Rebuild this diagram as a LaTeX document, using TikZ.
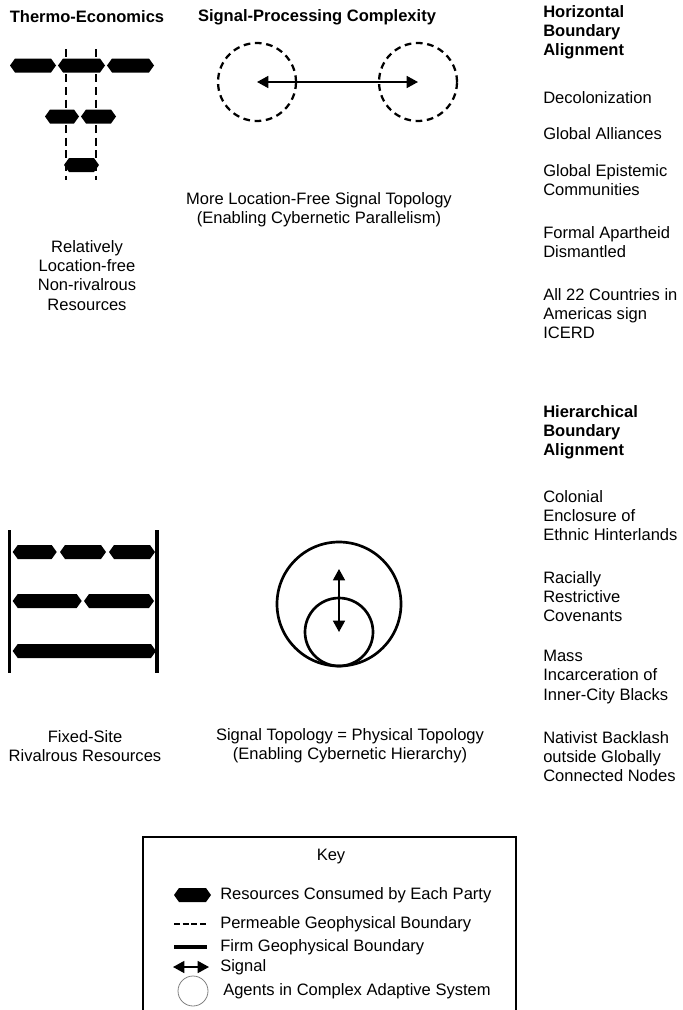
\documentclass[tikz,border=0pt]{standalone}
\usepackage{fontspec}
\setmainfont{Liberation Sans}
\usetikzlibrary{arrows.meta}

\tikzset{
  permeable/.style={line width=1.5pt, dash pattern=on 6pt off 3.5pt},
  firm/.style={line width=2.5pt},
  signal/.style={line width=1.2pt, {Triangle[length=8.5pt,width=9pt]}-{Triangle[length=8.5pt,width=9pt]}},
  agent/.style={circle, draw, line width=2pt, inner sep=0pt, minimum size=#1},
  notetext/.style={align=center, inner sep=0pt},
  heading/.style={notetext, font=\bfseries},
  entry/.style={align=left, anchor=west, inner sep=0pt},
}

% one resource: left end, right end, height of the middle
\newcommand{\resource}[3]{%
  \fill (#1,#3) -- ({#1+5},{#3-7}) -- ({#2-5},{#3-7}) -- (#2,#3)
    -- ({#2-5},{#3+7}) -- ({#1+5},{#3+7}) -- cycle;}

\begin{document}
\fontsize{12.4}{14.3}\selectfont
\begin{tikzpicture}[x=0.75pt, y=-0.75pt]
	\useasboundingbox (0,0) rectangle (682,1010);
	% titres
	\node[heading] (thermo) at (87,17) {Thermo-Economics};
	\node[heading] (sigproc) at (317,17) {Signal-Processing Complexity};
	% ressources libres
	\draw[permeable] (66,49) -- (66,180);
	\draw[permeable] (96,49) -- (96,180);
	\resource{10}{56}{65.5}
	\resource{58}{105}{65.5}
	\resource{107}{154}{65.5}
	\resource{45}{79}{116.5}
	\resource{81}{116}{116.5}
	\resource{64}{99}{165}
	\node[notetext] (freeres) at (87,275.5) {Relatively\\Location-free\\Non-rivalrous\\Resources};
	% agents paralleles
	\node[agent=58.5pt, line width=1.7pt, dash pattern=on 5pt off 3.5pt] (agentL) at (257,82) {};
	\node[agent=58.5pt, line width=1.7pt, dash pattern=on 5pt off 3.5pt] (agentR) at (418,82) {};
	\draw[signal] (agentL.center) -- (agentR.center);
	\node[notetext] (parallel) at (319,209.5) {More Location-Free Signal Topology\\(Enabling Cybernetic Parallelism)};
	% ressources fixes
	\draw[firm] (9.5,530) -- (9.5,673);
	\draw[firm] (157,530) -- (157,673);
	\resource{12.7}{56.7}{552}
	\resource{60}{106}{552}
	\resource{109}{155}{552}
	\resource{12.7}{81.7}{601}
	\resource{84}{154}{601}
	\resource{12.7}{156}{651}
	\node[notetext] (fixedres) at (85,746) {Fixed-Site\\Rivalrous Resources};
	% agents hierarchiques
	\node[agent=93pt] (outer) at (339,604) {};
	\node[agent=51pt] (inner) at (339,632) {};
	\coordinate (sigtop) at (339,569);
	\draw[signal] (sigtop) -- (inner.center);
	\node[notetext] (hierarchy) at (350,746) {Signal Topology = Physical Topology\\(Enabling Cybernetic Hierarchy)};
	% colonne de droite
	\node[entry, font=\bfseries] (horiz) at (543,32.5) {Horizontal\\Boundary\\Alignment};
	\node[entry] (h1) at (543,98) {Decolonization};
	\node[entry] (h2) at (543,134) {Global Alliances};
	\node[entry] (h3) at (543,180) {Global Epistemic\\Communities};
	\node[entry] (h4) at (543,242.5) {Formal Apartheid\\Dismantled};
	\node[entry] (h5) at (543,314) {All 22 Countries in\\Americas sign\\ICERD};
	\node[entry, font=\bfseries] (hier) at (543,432) {Hierarchical\\Boundary\\Alignment};
	\node[entry] (v1) at (543,516) {Colonial\\Enclosure of\\Ethnic Hinterlands};
	\node[entry] (v2) at (543,597) {Racially\\Restrictive\\Covenants};
	\node[entry] (v3) at (543,677) {Mass\\Incarceration of\\Inner-City Blacks};
	\node[entry] (v4) at (543,757) {Nativist Backlash\\outside Globally\\Connected Nodes};
	% legende
	\draw[line width=0.9pt] (143,1010) -- (143,837) -- (516,837) -- (516,1010);
	\node[notetext] (key) at (331,857) {Key};
	\resource{174}{211}{895}
	\node[entry] (k1) at (220,895) {Resources Consumed by Each Party};
	\draw[line width=1.5pt, dash pattern=on 4.5pt off 2pt] (174,924) -- (207,924);
	\node[entry] (k2) at (220,924) {Permeable Geophysical Boundary};
	\draw[line width=2.6pt] (174,947) -- (207,947);
	\node[entry] (k3) at (220,947) {Firm Geophysical Boundary};
	\draw[signal] (173,967) -- (209,967);
	\node[entry] (k4) at (220,967) {Signal};
	\node[agent=22.5pt, line width=0.6pt, draw=gray] (kagent) at (193,991) {};
	\node[entry] (k5) at (223,991) {Agents in Complex Adaptive System};
\end{tikzpicture}
\end{document}
